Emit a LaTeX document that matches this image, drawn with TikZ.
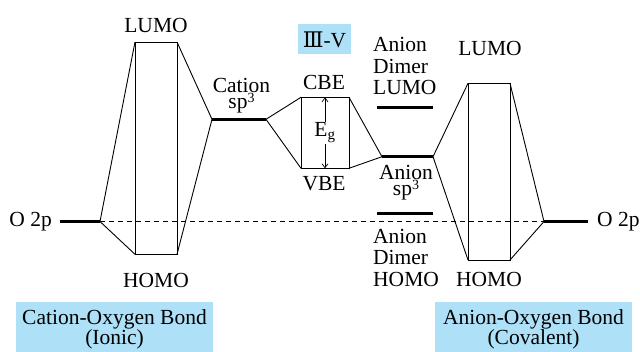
\documentclass[tikz,border=0pt]{standalone}
\usepackage{fontspec}
\setmainfont{Liberation Serif}
\newfontfamily\romanfont{DejaVu Serif}
\usetikzlibrary{arrows.meta}
\definecolor{tagblue}{RGB}{174,224,248}
% small raised "3" for the sp3 hybrid labels
\newcommand\hybthree{\raisebox{0.26em}{\fontsize{14}{14}\selectfont 3}}

\begin{document}
\begin{tikzpicture}[x=1pt,y=-1pt,
  lbl/.style={inner sep=0pt, font=\fontsize{21.5}{24}\selectfont},
  tight/.style={inner sep=0pt, align=center, font=\fontsize{21.5}{16}\selectfont},
  stack/.style={inner sep=0pt, align=left, font=\fontsize{21.5}{21.7}\selectfont},
  caption/.style={inner sep=0pt, align=center, font=\fontsize{21.5}{19}\selectfont},
  lvl/.style={line width=2.6pt},
  tie/.style={line width=0.9pt},
  refline/.style={line width=0.8pt, dash pattern=on 5pt off 4pt},
  tagbox/.style={fill=tagblue, draw=none, inner sep=0pt}]
\useasboundingbox (0,0) rectangle (640,352);

% ---- energy level end points
\coordinate (o2pLa) at (60,221.5);  \coordinate (o2pLb) at (100,221.5);
\coordinate (lTL) at (135,42);      \coordinate (lTR) at (177,42);
\coordinate (lBL) at (135,254.3);   \coordinate (lBR) at (177,254.3);
\coordinate (catL) at (212,119.3);  \coordinate (catR) at (266,119.3);
\coordinate (cbeL) at (301,97.3);   \coordinate (cbeR) at (349,97.3);
\coordinate (vbeL) at (301,168.3);  \coordinate (vbeR) at (349,168.3);
\coordinate (egT) at (325,97.3);    \coordinate (egB) at (325,168.3);
\coordinate (anL) at (382,156.7);   \coordinate (anR) at (433,156.7);
\coordinate (dlL) at (376.5,107.3); \coordinate (dlR) at (432.5,107.3);
\coordinate (dhL) at (376.5,213.3); \coordinate (dhR) at (432.5,213.3);
\coordinate (rTL) at (468,83.3);    \coordinate (rTR) at (510,83.3);
\coordinate (rBL) at (468,260);     \coordinate (rBR) at (510,260);
\coordinate (o2pRa) at (544,221.5); \coordinate (o2pRb) at (588,221.5);

% ---- O 2p reference line
\draw[refline] (o2pLb) -- (o2pRa);

% ---- thick levels
\draw[lvl] (o2pLa) -- (o2pLb);
\draw[lvl] (catL) -- (catR);
\draw[lvl] (anL) -- (anR);
\draw[lvl] (dlL) -- (dlR);
\draw[lvl] (dhL) -- (dhR);
\draw[lvl] (o2pRa) -- (o2pRb);

% ---- cation-oxygen bond (ionic)
\draw[tie] (lTL) rectangle (lBR);
\draw[tie] (o2pLb) -- (lTL);
\draw[tie] (o2pLb) -- (lBL);
\draw[tie] (lTR) -- (catL);
\draw[tie] (lBR) -- (catL);

% ---- III-V band edges
\draw[tie] (cbeL) rectangle (vbeR);
\draw[tie] (catR) -- (cbeL);
\draw[tie] (catR) -- (vbeL);
\draw[tie] (cbeR) -- (anL);
\draw[tie] (vbeR) -- (anL);
\draw[line width=0.7pt, {Straight Barb[length=4pt,width=6pt]}-{Straight Barb[length=4pt,width=6pt]}] (egT) -- (egB);
\node[lbl, fill=white, inner sep=1pt] (eg) at (325,133) {E\textsubscript{g}};

% ---- anion-oxygen bond (covalent)
\draw[tie] (rTL) rectangle (rBR);
\draw[tie] (anR) -- (rTL);
\draw[tie] (anR) -- (rBL);
\draw[tie] (rTR) -- (o2pRa);
\draw[tie] (rBR) -- (o2pRa);

% ---- labels
\node[lbl, anchor=base east] (o2pLtxt) at (52,227) {O 2p};
\node[lbl, anchor=base west] (o2pRtxt) at (597,227) {O 2p};
\node[lbl, anchor=base] (lumoL) at (156,33) {LUMO};
\node[lbl, anchor=base] (homoL) at (156,288) {HOMO};
\node[tight, anchor=north] (cation) at (241.5,78) {Cation\\sp\hybthree};
\node[lbl, anchor=base] (cbe) at (324,90) {CBE};
\node[lbl, anchor=base] (vbe) at (324,191) {VBE};
\node[tight, anchor=north] (anion) at (406,165) {Anion\\sp\hybthree};
\node[stack, anchor=north west] (dimerL) at (373,37) {Anion\\Dimer\\LUMO};
\node[stack, anchor=north west] (dimerH) at (373,228.6) {Anion\\Dimer\\HOMO};
\node[lbl, anchor=base] (lumoR) at (490,56) {LUMO};
\node[lbl, anchor=base] (homoR) at (489,287) {HOMO};

% ---- tags
\node[tagbox, minimum width=53pt, minimum height=30pt] (tagIIIV) at (324.5,39) {};
\node[lbl] (tagIIIVtxt) at (324.5,40) {{\romanfont Ⅲ}-V};
\node[tagbox, minimum width=197pt, minimum height=50pt] (ionicbox) at (114.5,327) {};
\node[caption, anchor=north] (ionic) at (114.5,309.3) {Cation-Oxygen Bond\\(Ionic)};
\node[tagbox, minimum width=197pt, minimum height=50pt] (covbox) at (533.5,327) {};
\node[caption, anchor=north] (covalent) at (533.5,309.3) {Anion-Oxygen Bond\\(Covalent)};
\end{tikzpicture}
\end{document}
